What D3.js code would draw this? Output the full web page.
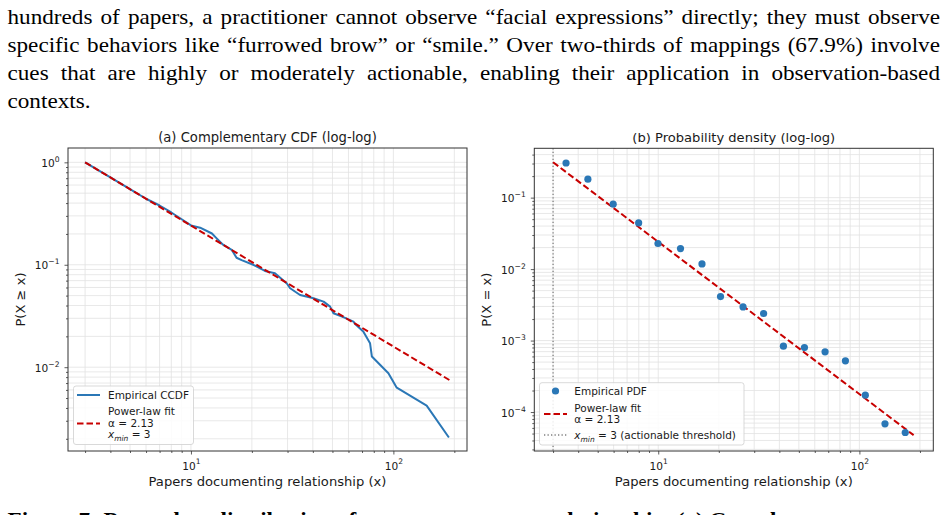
<!DOCTYPE html>
<html><head><meta charset="utf-8">
<script src="https://cdn.jsdelivr.net/npm/d3@7"></script>
<style>body{margin:0;background:#fff}svg{display:block}</style>
</head><body><svg id="c" width="948" height="515"></svg>
<script>
// ---------- data ----------
const paraLines = [
  "hundreds of papers, a practitioner cannot observe \u201cfacial expressions\u201d directly; they must observe",
  "specific behaviors like \u201cfurrowed brow\u201d or \u201csmile.\u201d Over two-thirds of mappings (67.9%) involve",
  "cues that are highly or moderately actionable, enabling their application in observation-based",
  "contexts."
];
const captionText = "Figure 7: Power-law distribution of paper support per relationship. (a) Complementary";

const ccdfX = [3, 4, 5, 6, 7, 8, 9, 10, 11.1, 12.7, 13.4, 14.4, 15.9, 16.8, 17.8, 20.3, 23.2, 26, 29.7, 30.9, 34.6, 40.3, 45.2, 48.7, 50.6, 56.6, 63.5, 64.7, 71, 76.7, 78.3, 94.5, 103.9, 146, 188];
const ccdfY = [1, 0.712, 0.547, 0.441, 0.379, 0.324, 0.278, 0.242, 0.23, 0.202, 0.181, 0.157, 0.14, 0.117, 0.111, 0.1, 0.087, 0.0826, 0.066, 0.059, 0.0507, 0.0471, 0.0437, 0.039, 0.0336, 0.0308, 0.0279, 0.0264, 0.0223, 0.0171, 0.0127, 0.00873, 0.00631, 0.00421, 0.00206];
const fitCcdfX = [3, 189];
const fitCcdfY = [1, 0.0075];

const pdfX = [3.48, 4.47, 5.97, 7.99, 9.97, 12.9, 16.5, 20.4, 26.4, 33.4, 41.9, 53.3, 67.5, 85.2, 107, 134, 169];
const pdfY = [0.305, 0.181, 0.081, 0.0443, 0.0228, 0.0194, 0.0118, 0.00412, 0.00296, 0.00239, 0.000835, 0.000798, 0.000695, 0.00052, 0.000172, 0.0000684, 0.0000517];
const fitPdfX = [3, 186];
const fitPdfY = [0.313, 0.0000475];

const xminValue = 3;
const alphaLabel = "\u03b1 = 2.13";
const xMajorTicks = [10, 100];
const yMajorTicksA = [1, 0.1, 0.01];
const yMajorTicksB = [0.1, 0.01, 0.001, 0.0001];

// ---------- styles ----------
const BLUE = "#2a77b6", RED = "#c80000", SPINE = "#333", GRID = "#e2e2e2", TXT = "#1a1a1a";
const SANS = "'DejaVu Sans', Verdana, sans-serif";
const SERIF = "'Liberation Serif', 'Times New Roman', 'Nimbus Roman', serif";

const svg = d3.select("#c");
svg.append("rect").attr("width", 948).attr("height", 515).attr("fill", "#fff");

// ---------- paragraph ----------
const para = svg.append("g").style("font-family", SERIF).style("font-size", "21px").attr("fill", "#000");
function measure(w){ const t = para.append("text").text(w); const l = t.node().getComputedTextLength(); t.remove(); return l; }
const sx = 83 / measure("contexts.");
const paraLeft = 7.5, paraRight = 940, paraBase = [24, 52, 80, 108];
const spaceW = measure("a a") - measure("aa");
paraLines.forEach((line, i) => {
  const words = line.split(" ");
  const ws = words.map(w => measure(w) * sx);
  const justify = i < paraLines.length - 1;
  const gap = justify ? (paraRight - paraLeft - d3.sum(ws)) / (words.length - 1) : spaceW * sx;
  let x = paraLeft;
  words.forEach((w, j) => {
    para.append("text").attr("transform", `translate(${x},${paraBase[i]}) scale(${sx},1)`).text(w);
    x += ws[j] + gap;
  });
});
// caption (cut off by the bottom edge, as in the source page)
svg.append("text").attr("transform", `translate(7.5,527) scale(${sx},1)`)
  .style("font-family", SERIF).style("font-size", "21px").style("font-weight", "bold").attr("fill", "#000")
  .text(captionText);

// ---------- helpers ----------
function logTicks(dom){
  const out = [];
  const lo = Math.floor(Math.log10(dom[0])), hi = Math.ceil(Math.log10(dom[1]));
  for (let k = lo; k <= hi; k++) for (let m = 1; m < 10; m++) {
    const v = +(m * Math.pow(10, k)).toPrecision(6);
    if (v >= dom[0] && v <= dom[1]) out.push(v);
  }
  return out;
}
function supLabel(sel){
  sel.each(function(d){
    const e = Math.round(Math.log10(d));
    const t = d3.select(this);
    t.text(null);
    t.append("tspan").text("10");
    t.append("tspan").attr("dy", -5.2).style("font-size", "7.6px").text(e < 0 ? "\u2212" + (-e) : String(e));
  });
}
function fitText(sel, target){
  const l = sel.node().getComputedTextLength();
  const fs = parseFloat(sel.style("font-size"));
  sel.style("font-size", (fs * target / l) + "px");
}

function panel(o){
  const g = svg.append("g");
  const x = d3.scaleLog().domain(o.xDom).range([o.x0, o.x1]);
  const y = d3.scaleLog().domain(o.yDom).range([o.y1, o.y0]);
  const id = "clip" + o.key;
  g.append("clipPath").attr("id", id).append("rect").attr("x", o.x0).attr("y", o.y0).attr("width", o.x1 - o.x0).attr("height", o.y1 - o.y0);

  // grid
  const xs = logTicks(o.xDom), ys = logTicks(o.yDom);
  const grid = g.append("g").attr("stroke", GRID).attr("stroke-width", 0.8);
  grid.selectAll(".gx").data(xs).join("line").attr("x1", d => x(d)).attr("x2", d => x(d)).attr("y1", o.y0).attr("y2", o.y1);
  grid.selectAll(".gy").data(ys).join("line").attr("y1", d => y(d)).attr("y2", d => y(d)).attr("x1", o.x0).attr("x2", o.x1);

  // axes
  const minorX = xs.filter(v => !xMajorTicks.includes(v));
  const majY = o.yMajor, minorY = ys.filter(v => !majY.some(m => Math.abs(m - v) / m < 1e-6));
  const ax1 = g.append("g").attr("transform", `translate(0,${o.y1})`).call(d3.axisBottom(x).tickValues(minorX).tickSize(2).tickFormat(""));
  const ax2 = g.append("g").attr("transform", `translate(0,${o.y1})`).call(d3.axisBottom(x).tickValues(xMajorTicks).tickSize(3.5).tickPadding(5));
  const ay1 = g.append("g").attr("transform", `translate(${o.x0},0)`).call(d3.axisLeft(y).tickValues(minorY).tickSize(2).tickFormat(""));
  const ay2 = g.append("g").attr("transform", `translate(${o.x0},0)`).call(d3.axisLeft(y).tickValues(majY).tickSize(3.5).tickPadding(5));
  [ax1, ax2, ay1, ay2].forEach(a => {
    a.attr("font-family", null).attr("font-size", null);
    a.select(".domain").remove();
    a.selectAll(".tick line").attr("stroke", SPINE).attr("stroke-width", 0.8);
    a.selectAll(".tick text").style("font-family", SANS).style("font-size", "10.6px").attr("fill", TXT);
  });
  ax2.selectAll(".tick text").attr("dy", null).attr("y", 18.5).call(supLabel);
  ay2.selectAll(".tick text").attr("dy", null).attr("y", 4.2).call(supLabel);

  // data
  const plot = g.append("g").attr("clip-path", `url(#${id})`);
  o.draw(plot, x, y);

  // spines
  g.append("rect").attr("x", o.x0).attr("y", o.y0).attr("width", o.x1 - o.x0).attr("height", o.y1 - o.y0)
    .attr("fill", "none").attr("stroke", SPINE).attr("stroke-width", 1);

  // labels
  const t = g.append("text").attr("x", (o.x0 + o.x1) / 2).attr("y", 141.5).attr("text-anchor", "middle")
    .style("font-family", SANS).style("font-size", "12px").attr("fill", TXT).text(o.title);
  fitText(t, o.titleW);
  const xl = g.append("text").attr("x", (o.x0 + o.x1) / 2).attr("y", 486).attr("text-anchor", "middle")
    .style("font-family", SANS).style("font-size", "12px").attr("fill", TXT).text("Papers documenting relationship (x)");
  fitText(xl, 238);
  g.append("text").attr("transform", `translate(${o.ylabX},${(o.y0 + o.y1) / 2}) rotate(-90)`).attr("text-anchor", "middle")
    .style("font-family", SANS).style("font-size", xl.style("font-size")).attr("fill", TXT).text(o.ylabel);
  return g;
}

function xminLabel(t, extra){
  t.append("tspan").attr("font-style", "italic").text("x");
  t.append("tspan").attr("font-style", "italic").style("font-size", "7.5px").attr("dy", 2.6).text("min");
  t.append("tspan").attr("dy", -2.6).text(" = " + xminValue + (extra || ""));
}

// ---------- panel (a) ----------
const ga = panel({
  key: "a", x0: 68, x1: 467, y0: 148, y1: 451,
  xDom: [2.47, 231], yDom: [0.00152, 1.38], yMajor: yMajorTicksA,
  title: "(a) Complementary CDF (log-log)", titleW: 219, ylabel: "P(X \u2265 x)", ylabX: 25,
  draw: (p, x, y) => {
    const line = d3.line().x(d => x(d[0])).y(d => y(d[1]));
    p.append("path").attr("d", line(ccdfX.map((v, i) => [v, ccdfY[i]]))).attr("fill", "none")
      .attr("stroke", BLUE).attr("stroke-width", 2).attr("stroke-linejoin", "round");
    p.append("path").attr("d", line(fitCcdfX.map((v, i) => [v, fitCcdfY[i]]))).attr("fill", "none")
      .attr("stroke", RED).attr("stroke-width", 2).attr("stroke-dasharray", "6.5,3");
  }
});
// legend (a)
{
  const L = ga.append("g").style("font-family", SANS).style("font-size", "10.5px").attr("fill", TXT);
  L.append("rect").attr("x", 73.5).attr("y", 386).attr("width", 120).attr("height", 58.5).attr("rx", 2.5)
    .attr("fill", "#fff").attr("fill-opacity", 0.85).attr("stroke", "#cfcfcf").attr("stroke-width", 0.8);
  L.append("line").attr("x1", 77).attr("x2", 100).attr("y1", 395).attr("y2", 395).attr("stroke", BLUE).attr("stroke-width", 2);
  L.append("text").attr("x", 108).attr("y", 398.8).text("Empirical CCDF");
  L.append("line").attr("x1", 77).attr("x2", 100).attr("y1", 423.5).attr("y2", 423.5).attr("stroke", RED).attr("stroke-width", 2).attr("stroke-dasharray", "6.5,3");
  L.append("text").attr("x", 108).attr("y", 414.8).text("Power-law fit");
  L.append("text").attr("x", 108).attr("y", 426.8).text(alphaLabel);
  xminLabel(L.append("text").attr("x", 108).attr("y", 438));
}

// ---------- panel (b) ----------
const gb = panel({
  key: "b", x0: 534.3, x1: 933.3, y0: 148.3, y1: 451,
  xDom: [2.42, 233], yDom: [0.0000285, 0.49], yMajor: yMajorTicksB,
  title: "(b) Probability density (log-log)", titleW: 203, ylabel: "P(X = x)", ylabX: 491,
  draw: (p, x, y) => {
    const line = d3.line().x(d => x(d[0])).y(d => y(d[1]));
    p.append("line").attr("x1", x(xminValue)).attr("x2", x(xminValue)).attr("y1", 148.3).attr("y2", 451)
      .attr("stroke", "#808080").attr("stroke-width", 1.3).attr("stroke-dasharray", "1.3,2.2");
    p.append("path").attr("d", line(fitPdfX.map((v, i) => [v, fitPdfY[i]]))).attr("fill", "none")
      .attr("stroke", RED).attr("stroke-width", 2).attr("stroke-dasharray", "6.5,3");
    p.selectAll("circle").data(pdfX.map((v, i) => [v, pdfY[i]])).join("circle")
      .attr("cx", d => x(d[0])).attr("cy", d => y(d[1])).attr("r", 3.6).attr("fill", BLUE);
  }
});
// legend (b)
{
  const L = gb.append("g").style("font-family", SANS).style("font-size", "10.5px").attr("fill", TXT);
  L.append("rect").attr("x", 539.5).attr("y", 382.7).attr("width", 204.5).attr("height", 62.3).attr("rx", 2.5)
    .attr("fill", "#fff").attr("fill-opacity", 0.85).attr("stroke", "#cfcfcf").attr("stroke-width", 0.8);
  L.append("circle").attr("cx", 555.5).attr("cy", 391).attr("r", 3.6).attr("fill", BLUE);
  L.append("text").attr("x", 574.3).attr("y", 394.8).text("Empirical PDF");
  L.append("line").attr("x1", 544).attr("x2", 567).attr("y1", 414).attr("y2", 414).attr("stroke", RED).attr("stroke-width", 2).attr("stroke-dasharray", "6.5,3");
  L.append("text").attr("x", 574.3).attr("y", 411.5).text("Power-law fit");
  L.append("text").attr("x", 574.3).attr("y", 423).text(alphaLabel);
  L.append("line").attr("x1", 544).attr("x2", 567).attr("y1", 435).attr("y2", 435).attr("stroke", "#808080").attr("stroke-width", 1.3).attr("stroke-dasharray", "1.3,2.2");
  xminLabel(L.append("text").attr("x", 574.3).attr("y", 439), " (actionable threshold)");
}
</script></body></html>
